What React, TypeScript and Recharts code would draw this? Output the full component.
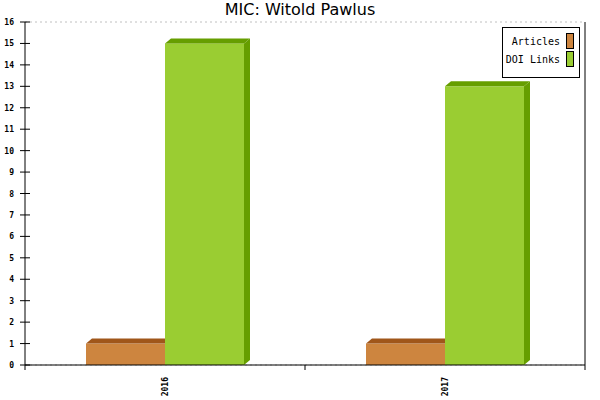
import { BarChart, Bar, XAxis, YAxis, CartesianGrid } from 'recharts';

// chart values
const years = ['2016', '2017'];
const articles = [1, 1];
const doiLinks = [15, 13];
const yTicks = [0, 1, 2, 3, 4, 5, 6, 7, 8, 9, 10, 11, 12, 13, 14, 15, 16];

const data = years.map((year, i) => ({ year, articles: articles[i], doi: doiLinks[i] }));

const W = 600;
const H = 400;
const MARGIN = { top: 22, right: 14, bottom: 0, left: 0 };
const Y_AXIS_W = 25;
const X_AXIS_H = 35;
const PLOT_LEFT = MARGIN.left + Y_AXIS_W;
const PLOT_W = W - PLOT_LEFT - MARGIN.right - 1;
const PLOT_BOTTOM = H - MARGIN.bottom - X_AXIS_H;
const BAND = PLOT_W / years.length;
const DEPTH_X = 6;
const DEPTH_Y = 5;

const MONO = '"DejaVu Sans Mono", monospace';

const bar3d = (dark: string) => (props: any) => {
  const { x, y, width, height, fill } = props;
  if (width == null || height == null) return <g />;
  const r = x + width;
  return (
    <g>
      <rect x={x} y={y} width={width} height={height} fill={fill} />
      <polygon
        points={`${x},${y} ${x + DEPTH_X},${y - DEPTH_Y} ${r + DEPTH_X},${y - DEPTH_Y} ${r},${y}`}
        fill={dark}
      />
      <polygon
        points={`${r},${y} ${r + DEPTH_X},${y - DEPTH_Y} ${r + DEPTH_X},${y + height - DEPTH_Y} ${r},${y + height}`}
        fill={dark}
      />
    </g>
  );
};

const YTick = (props: any) => {
  const { x, y, payload } = props;
  return (
    <g>
      <line x1={PLOT_LEFT - 5} x2={PLOT_LEFT + 5} y1={y} y2={y} stroke="#000" strokeWidth={1} />
      <text x={x} y={y + 3} textAnchor="end" fontSize={8} fontWeight="bold" fontFamily={MONO} fill="#000">
        {payload.value}
      </text>
    </g>
  );
};

const XTick = (props: any) => {
  const { x, payload, index } = props;
  const last = index === years.length - 1;
  const ty = PLOT_BOTTOM + 12;
  return (
    <g>
      <line x1={x - BAND / 2} x2={x - BAND / 2} y1={PLOT_BOTTOM} y2={PLOT_BOTTOM + 5} stroke="#000" />
      {last && <line x1={x + BAND / 2} x2={x + BAND / 2} y1={PLOT_BOTTOM} y2={PLOT_BOTTOM + 5} stroke="#000" />}
      <text
        x={x + 3}
        y={ty}
        transform={`rotate(-90, ${x + 3}, ${ty})`}
        textAnchor="end"
        fontSize={8}
        fontWeight="bold"
        fontFamily={MONO}
        fill="#000"
      >
        {payload.value}
      </text>
    </g>
  );
};

const legendItems = [
  { label: 'Articles', color: '#CD853F' },
  { label: 'DOI Links', color: '#9ACD32' },
];

export default function App() {
  return (
    <div style={{ position: 'absolute', left: 0, top: 0, width: W, height: H, background: '#fff' }}>
      <div
        style={{
          position: 'absolute',
          left: 0,
          top: 0,
          width: W,
          textAlign: 'center',
          fontFamily: '"DejaVu Sans", sans-serif',
          fontSize: 16,
          lineHeight: '20px',
          color: '#000',
        }}
      >
        MIC: Witold Pawlus
      </div>
      <BarChart width={W} height={H} data={data} margin={MARGIN} barCategoryGap={61} barGap={0}>
        <CartesianGrid vertical={false} stroke="#c0c0c0" strokeDasharray="2 3" />
        <XAxis
          dataKey="year"
          height={X_AXIS_H}
          stroke="#000"
          tickLine={false}
          tick={<XTick />}
          interval={0}
        />
        <YAxis
          yAxisId="left"
          type="number"
          domain={[0, 16]}
          ticks={yTicks}
          interval={0}
          width={Y_AXIS_W}
          stroke="#000"
          tickLine={false}
          tickSize={5}
          tickMargin={6}
          tick={<YTick />}
        />
        <YAxis
          yAxisId="right"
          orientation="right"
          type="number"
          domain={[0, 16]}
          width={1}
          stroke="#000"
          tick={false}
          tickLine={false}
        />
        <Bar yAxisId="left" dataKey="articles" fill="#CD853F" shape={bar3d('#A0561A')} isAnimationActive={false} />
        <Bar yAxisId="left" dataKey="doi" fill="#9ACD32" shape={bar3d('#669E00')} isAnimationActive={false} />
      </BarChart>
      <div
        style={{
          position: 'absolute',
          left: 502,
          top: 27,
          width: 78,
          height: 51,
          boxSizing: 'border-box',
          border: '1px solid #000',
          background: '#fff',
          paddingTop: 4,
          paddingRight: 5,
          fontFamily: MONO,
          fontSize: 10,
          color: '#000',
        }}
      >
        {legendItems.map((it) => (
          <div key={it.label} style={{ display: 'flex', justifyContent: 'flex-end', alignItems: 'center', height: 18 }}>
            <span style={{ marginRight: 6, whiteSpace: 'pre' }}>{it.label}</span>
            <span
              style={{ display: 'inline-block', width: 6, height: 14, background: it.color, border: '1px solid #000' }}
            />
          </div>
        ))}
      </div>
    </div>
  );
}
